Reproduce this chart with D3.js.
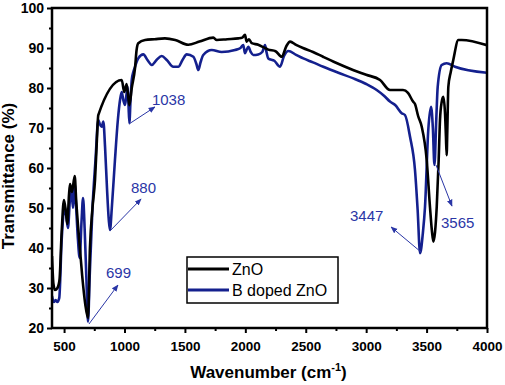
<!DOCTYPE html>
<html>
<head>
<meta charset="utf-8">
<script src="https://cdn.jsdelivr.net/npm/d3@7"></script>
<style>
  body { margin: 0; background: #fff; }
  svg { display: block; font-family: "Liberation Sans", Arial, sans-serif; }
</style>
</head>
<body>
<div id="chart"></div>
<script>
// ZnO spectrum (wavenumber, transmittance)
var znoWn = [400, 412, 425, 445, 462, 480, 499, 515, 527, 540, 549, 565, 588, 600, 625, 650, 675, 698, 714, 735, 756, 770, 783,
  977, 998, 1018, 1040, 1060, 1087, 1100, 1114, 1170, 1250, 1335, 1420, 1528, 1620, 1735, 1763, 1850, 1942, 1975, 1997, 2011,
  2030, 2053, 2107, 2150, 2190, 2250, 2301, 2340, 2370, 2420, 2477, 2560, 2643, 2750, 2891, 3000, 3115, 3197, 3305, 3346,
  3388, 3404, 3430, 3460, 3501, 3528, 3545, 3556, 3570, 3584, 3600, 3611, 3625, 3638, 3652, 3660, 3666, 3672, 3680, 3700,
  3721, 3763, 3791, 4000];
var znoT = [38, 31, 29.5, 30, 32, 44, 52, 49, 46, 53, 56, 54, 58, 52, 42, 33, 26, 22.5, 40, 50, 57, 66, 73.2,
  82, 79, 81, 75.7, 80, 85, 89.5, 91.2, 92, 92.2, 92.4, 92, 90.8, 91.6, 92.6, 92, 92.2, 92.4, 92.6, 93.3, 91.6,
  92.2, 91.2, 90.8, 90.2, 89.6, 89.2, 87.8, 90.5, 91.6, 90.8, 90, 89, 87.8, 86.3, 84.5, 83.3, 82, 79.5, 79.5, 78.8,
  76.6, 76, 73, 70.3, 62, 50.3, 44, 41.6, 44, 50.3, 62, 72, 76.5, 77.8, 74, 68, 63.2, 70, 80.3, 84,
  87, 92, 92, 90.7];

// B doped ZnO spectrum
var bznoWn = [400, 415, 430, 445, 460, 480, 505, 518, 532, 548, 560, 574, 588, 600, 615, 629, 645, 657, 670, 685, 698, 712,
  735, 760, 783, 795, 811, 825, 839, 855, 870, 880, 895, 921, 945, 963, 977, 990, 1004, 1015, 1026, 1033, 1040, 1050, 1060,
  1073, 1087, 1100, 1114, 1156, 1190, 1225, 1265, 1308, 1350, 1404, 1445, 1480, 1515, 1570, 1595, 1611, 1630, 1652, 1722,
  1804, 1914, 1960, 1983, 1997, 2010, 2025, 2045, 2066, 2107, 2140, 2163, 2175, 2190, 2240, 2287, 2320, 2356, 2420, 2480,
  2560, 2645, 2770, 2894, 3000, 3087, 3150, 3197, 3240, 3294, 3321, 3363, 3404, 3426, 3446, 3470, 3487, 3514, 3537, 3552,
  3565, 3580, 3592, 3625, 3666, 3735, 4000];
var bznoT = [28, 26.5, 27, 26.5, 27.5, 42, 50.3, 48, 45, 52, 54.5, 50, 56, 50, 42, 37.5, 47, 52.5, 45, 32, 21.6, 33,
  50, 62, 72, 71, 70.3, 71.6, 65.3, 55, 47, 44.5, 50, 62, 72, 77, 79, 77, 75.75, 78, 80.3, 76, 71.2, 77, 82,
  84, 85.3, 86.5, 87.4, 88.4, 87, 85.75, 87, 88, 87, 85.3, 85.3, 87, 88.4, 87.8, 86, 84.5, 86.5, 88.25, 89.5,
  89, 89.5, 90, 90.75, 88.7, 89.5, 90.3, 89, 88.25, 88.4, 89, 90.75, 89, 87.4, 86.8, 85.3, 88, 89.25, 88.3, 87.4,
  86.4, 85.3, 83.8, 82.4, 81, 79.5, 78, 76.6, 75.75, 73.7, 73.25, 67.8, 59.5, 49.5, 38.7, 44, 50.3, 69.5, 75.3, 70,
  60.75, 72, 80.3, 85.75, 86.2, 85.3, 83.8];

var seriesNames = ["ZnO", "B doped ZnO"];
var xTicks = [500, 1000, 1500, 2000, 2500, 3000, 3500, 4000];
var yTicks = [20, 30, 40, 50, 60, 70, 80, 90, 100];

// peak labels: text, peak point, arrow tip, text position (data units)
var peakLabels = ["1038", "880", "699", "3447", "3565"];
var peakFrom = [[1037, 71], [888, 44.5], [706, 21], [3454, 39], [3578, 60.75]];
var peakTo = [[1252, 75.25], [1137, 52.25], [946, 30.75], [3206, 45.25], [3710, 50.5]];
var peakText = [[1227, 75.75], [1054, 53.75], [847, 32.5], [2866, 46.75], [3619, 45]];

var W = 505, H = 385;
var margin = {top: 8, right: 18, bottom: 57, left: 52};
var width = W - margin.left - margin.right;
var height = H - margin.top - margin.bottom;

var colors = ["#000000", "#14208e"];
var annColor = "#2a36a6";

var x = d3.scaleLinear().domain([400, 4000]).range([0, width]);
var y = d3.scaleLinear().domain([20, 100]).range([height, 0]);

var svg = d3.select("#chart").append("svg")
  .attr("width", W)
  .attr("height", H);

var defs = svg.append("defs");
defs.append("marker")
  .attr("id", "arrow")
  .attr("viewBox", "0 0 10 10")
  .attr("refX", 9).attr("refY", 5)
  .attr("markerWidth", 7).attr("markerHeight", 7)
  .attr("orient", "auto")
  .append("path")
  .attr("d", "M0,1 L10,5 L0,9 z")
  .attr("fill", annColor);

var g = svg.append("g")
  .attr("transform", "translate(" + margin.left + "," + margin.top + ")");

// minor ticks
var xMinor = d3.range(750, 4000, 500);
var yMinor = d3.range(25, 100, 10);

g.append("g")
  .attr("transform", "translate(0," + height + ")")
  .call(d3.axisBottom(x).tickValues(xMinor).tickSize(3).tickFormat(""))
  .call(function(s) { s.select(".domain").remove(); })
  .selectAll("line").attr("stroke-width", 2);

g.append("g")
  .call(d3.axisLeft(y).tickValues(yMinor).tickSize(3).tickFormat(""))
  .call(function(s) { s.select(".domain").remove(); })
  .selectAll("line").attr("stroke-width", 2);

var xAxis = g.append("g")
  .attr("transform", "translate(0," + height + ")")
  .call(d3.axisBottom(x).tickValues(xTicks).tickFormat(d3.format("d")).tickSize(5).tickPadding(8));
xAxis.select(".domain").remove();
xAxis.selectAll("line").attr("stroke-width", 2);
xAxis.selectAll("text")
  .attr("font-size", 13.5)
  .attr("font-weight", "bold")
  .attr("font-family", "Liberation Sans, Arial, sans-serif")
  .attr("fill", "#000");

var yAxis = g.append("g")
  .call(d3.axisLeft(y).tickValues(yTicks).tickFormat(d3.format("d")).tickSize(5).tickPadding(3));
yAxis.select(".domain").remove();
yAxis.selectAll("line").attr("stroke-width", 2);
yAxis.selectAll("text")
  .attr("font-size", 14)
  .attr("font-weight", "bold")
  .attr("font-family", "Liberation Sans, Arial, sans-serif")
  .attr("fill", "#000");

// spectra
var line = d3.line()
  .x(function(d) { return x(d[0]); })
  .y(function(d) { return y(d[1]); })
  .curve(d3.curveMonotoneX);

var series = [
  d3.zip(znoWn, znoT),
  d3.zip(bznoWn, bznoT)
];

g.append("defs").append("clipPath").attr("id", "clip")
  .append("rect").attr("width", width).attr("height", height);

// blue drawn first, black on top
[1, 0].forEach(function(i) {
  g.append("path")
    .datum(series[i])
    .attr("clip-path", "url(#clip)")
    .attr("fill", "none")
    .attr("stroke", colors[i])
    .attr("stroke-width", 2.6)
    .attr("stroke-linejoin", "round")
    .attr("d", line);
});

// frame
g.append("rect")
  .attr("width", width)
  .attr("height", height)
  .attr("fill", "none")
  .attr("stroke", "#000")
  .attr("stroke-width", 2.5);

// peak annotations
peakLabels.forEach(function(lab, i) {
  g.append("line")
    .attr("x1", x(peakFrom[i][0])).attr("y1", y(peakFrom[i][1]))
    .attr("x2", x(peakTo[i][0])).attr("y2", y(peakTo[i][1]))
    .attr("stroke", annColor)
    .attr("stroke-width", 1)
    .attr("marker-end", "url(#arrow)");
  g.append("text")
    .attr("x", x(peakText[i][0]))
    .attr("y", y(peakText[i][1]))
    .attr("font-size", 15)
    .attr("fill", annColor)
    .text(lab);
});

// legend
var legend = g.append("g").attr("transform", "translate(135,249)");
legend.append("rect")
  .attr("width", 151)
  .attr("height", 46)
  .attr("fill", "#fff")
  .attr("stroke", "#000")
  .attr("stroke-width", 1.5);
seriesNames.forEach(function(name, i) {
  legend.append("line")
    .attr("x1", 1).attr("x2", 42)
    .attr("y1", 12 + i * 21).attr("y2", 12 + i * 21)
    .attr("stroke", colors[i])
    .attr("stroke-width", 3);
  legend.append("text")
    .attr("x", 45)
    .attr("y", 18 + i * 21)
    .attr("font-size", 16)
    .attr("fill", "#000")
    .text(name);
});

// axis titles
svg.append("text")
  .attr("transform", "translate(14," + (margin.top + height / 2 + 8) + ") rotate(-90)")
  .attr("text-anchor", "middle")
  .attr("font-size", 17)
  .attr("font-weight", "bold")
  .text("Transmittance (%)");

var xt = svg.append("text")
  .attr("x", margin.left + width / 2 - 1)
  .attr("y", 378)
  .attr("text-anchor", "middle")
  .attr("font-size", 17)
  .attr("font-weight", "bold");
xt.append("tspan").text("Wavenumber (cm");
xt.append("tspan").attr("font-size", 11).attr("dy", -7).text("-1");
xt.append("tspan").attr("dy", 7).text(")");
</script>
</body>
</html>
